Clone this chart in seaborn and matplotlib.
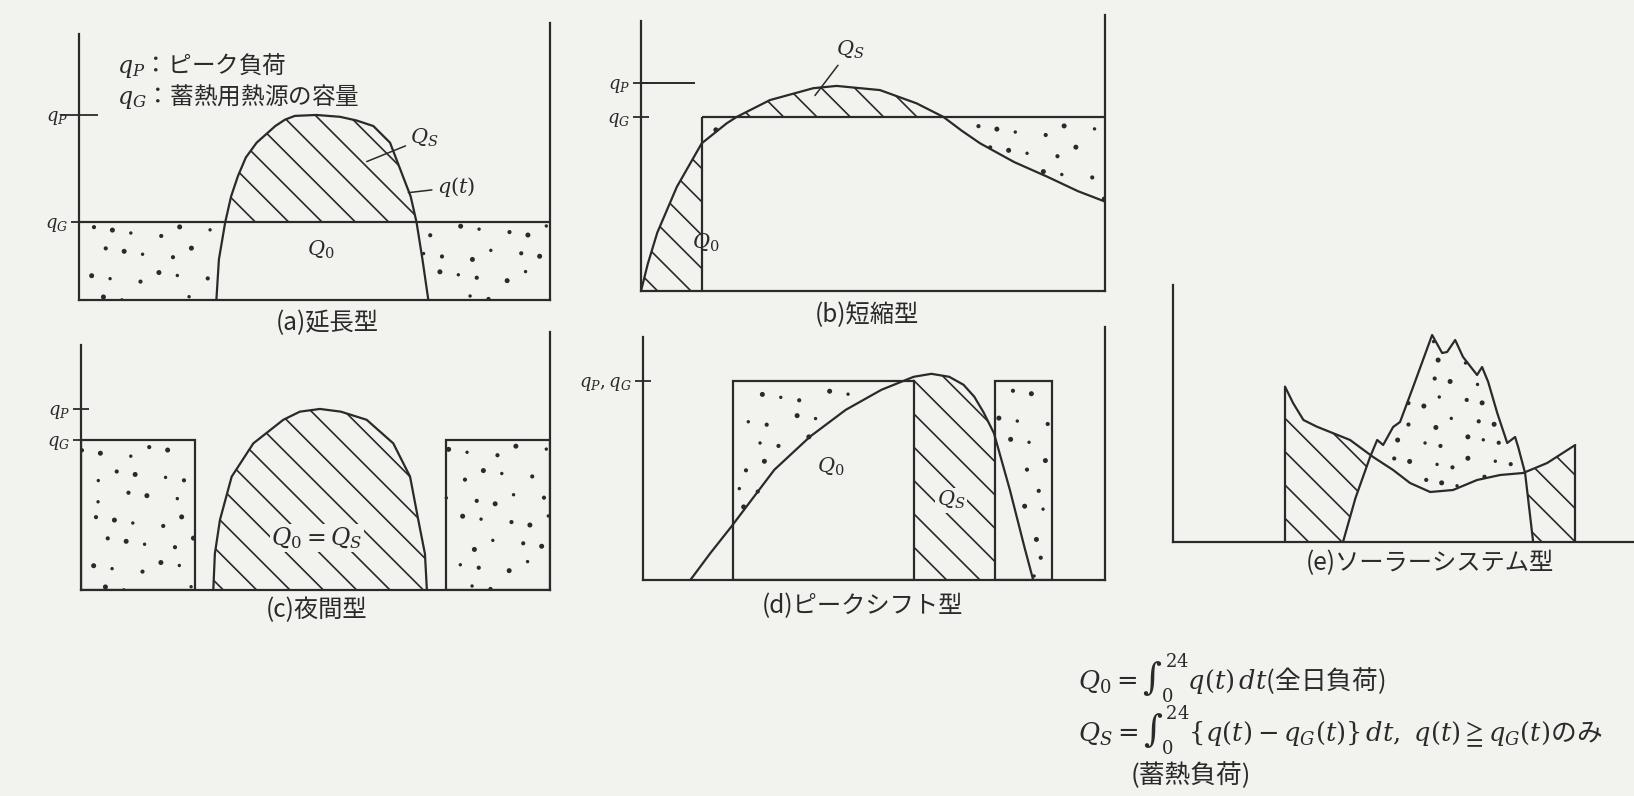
import numpy as np
import matplotlib
matplotlib.use("Agg")
import matplotlib.pyplot as plt
import seaborn as sns

sns.set_theme(style="white")
plt.rcParams["font.family"] = ["Noto Sans CJK JP", "DejaVu Sans"]
plt.rcParams["mathtext.fontset"] = "dejavuserif"
plt.rcParams["hatch.linewidth"] = 1.2
plt.rcParams["axes.unicode_minus"] = False

INK = "#2a2a2a"
PAPER = "#f2f2ef"
W, H = 1634, 796
LW = 1.6

# ---------------- data (時刻 [h], 負荷: q_P = 1) ----------------
# (a) 延長型
a_hours = [7.0, 7.13, 7.45, 7.75, 8.1, 8.5, 9.05, 10.0, 10.5, 11.0, 12.1,
           13.3, 14.15, 15.0, 15.85, 16.5, 16.9, 17.2, 17.5, 17.8]
a_load = [0.0, 0.22, 0.42, 0.56, 0.67, 0.77, 0.85, 0.94, 0.975, 0.995, 1.0,
          0.99, 0.97, 0.94, 0.85, 0.67, 0.56, 0.42, 0.22, 0.0]
a_qP, a_qG = 1.0, 0.42

# (b) 短縮型
b_hours = [0.0, 0.35, 0.84, 1.85, 3.14, 4.43, 4.95, 6.67, 8.91, 10.12, 12.36,
           14.26, 15.64, 16.6, 17.54, 19.3, 21.0, 22.6, 24.0]
b_load = [0.0, 0.13, 0.28, 0.50, 0.71, 0.806, 0.837, 0.918, 0.975, 0.986, 0.966,
          0.902, 0.837, 0.77, 0.71, 0.62, 0.55, 0.48, 0.43]
b_qP, b_qG = 1.0, 0.837
b_start = 3.16

# (c) 夜間型
c_hours = [6.77, 6.85, 7.11, 7.71, 8.82, 10.35, 11.2, 12.23, 13.3, 14.62,
           15.98, 16.84, 17.26, 17.6, 17.7]
c_load = [0.0, 0.2, 0.387, 0.626, 0.81, 0.94, 0.985, 1.0, 0.985, 0.94,
          0.81, 0.626, 0.387, 0.2, 0.0]
c_qP, c_qG = 1.0, 0.83
c_night_start = [0.0, 18.68]
c_night_end = [5.83, 24.0]

# (d) ピークシフト型
d_hours = [2.46, 3.5, 4.59, 5.7, 6.82, 8.68, 10.53, 12.39, 14.06, 14.98, 15.91,
           16.65, 17.21, 17.7, 18.23, 19.06, 19.81, 20.27]
d_load = [0.0, 0.135, 0.268, 0.41, 0.553, 0.72, 0.854, 0.955, 1.02, 1.035, 1.02,
          0.98, 0.92, 0.84, 0.737, 0.452, 0.167, 0.0]
d_qG = 1.0
d_store_start = [4.65, 18.3]
d_store_end = [14.06, 21.25]
d_shift = (14.06, 18.3)

# (e) ソーラーシステム型
e_load_h = [5.83, 6.25, 6.79, 7.48, 8.18, 9.22, 10.42, 11.46, 12.34, 13.39,
            14.58, 15.83, 17.03, 18.23, 19.48, 20.94]
e_load = [0.777, 0.695, 0.61, 0.577, 0.55, 0.51, 0.425, 0.36, 0.295, 0.25,
          0.26, 0.31, 0.335, 0.345, 0.395, 0.485]
e_sun_h = [8.85, 9.5, 10.26, 10.63, 10.94, 11.46, 11.82, 12.5, 13.49, 14.01,
           14.27, 14.69, 15.1, 15.83, 16.09, 16.41, 16.88, 17.4, 17.81, 17.97,
           18.33, 18.75]
e_sun = [0.0, 0.22, 0.425, 0.51, 0.485, 0.575, 0.60, 0.775, 1.035, 0.945,
         0.95, 1.01, 0.925, 0.835, 0.875, 0.80, 0.645, 0.495, 0.525, 0.475,
         0.345, 0.0]

captions = ["(a)延長型", "(b)短縮型", "(c)夜間型", "(d)ピークシフト型",
            "(e)ソーラーシステム型"]
formula_1 = r"$Q_0 = \int_0^{24} q(t)\,dt$(全日負荷)"
formula_2 = r"$Q_S = \int_0^{24} \{q(t) - q_G(t)\}\,dt,\ q(t) \geqq q_G(t)$のみ"
formula_3 = "(蓄熱負荷)"

# ---------------- drawing helpers ----------------
fig = plt.figure(figsize=(W / 100, H / 100), dpi=100, facecolor=PAPER)


def panel(x0, x1, ytop, ybot, ymax):
    ax = fig.add_axes([x0 / W, 1 - ybot / H, (x1 - x0) / W, (ybot - ytop) / H])
    ax.patch.set_alpha(0)
    for s in ax.spines.values():
        s.set_color(INK)
        s.set_linewidth(LW)
    ax.spines["top"].set_visible(False)
    ax.set_xticks([])
    ax.set_yticks([])
    ax.set_xlim(0, 24)
    ax.set_ylim(0, ymax)
    ax._ymax = ymax
    return ax


def finish(ax):
    ax.set_xlim(0, 24)
    ax.set_ylim(0, ax._ymax)
    ax.set_xlabel("")
    ax.set_ylabel("")


def curve(ax, x, y):
    sns.lineplot(x=np.asarray(x), y=np.asarray(y), ax=ax, color=INK,
                 linewidth=LW, sort=False, estimator=None)


def hatched(ax, x, lo, hi, where):
    ax.fill_between(x, lo, hi, where=where, interpolate=True, facecolor="none",
                    edgecolor=INK, hatch="\\", linewidth=0)


def stippled(ax, x, lo, hi, where, step=23):
    """Sprinkle dots over the area between lo and hi (stipple texture)."""
    poly = ax.fill_between(x, lo, hi, where=where, interpolate=True,
                           facecolor="none", linewidth=0)
    bb = ax.bbox
    nx = int(bb.width // step) + 2
    ny = int(bb.height // step) + 2
    k = np.arange(nx * ny)
    col, row = k % nx, k // nx
    px = bb.x0 + (col + 0.5 * (row % 2)) * step + (np.modf(k * 0.6180339)[0] - 0.5) * 12
    py = bb.y0 + row * step + (np.modf(k * 0.7548777)[0] - 0.5) * 12
    pts = ax.transData.inverted().transform(np.column_stack([px, py]))
    inside = np.zeros(len(pts), bool)
    for p in poly.get_paths():
        inside |= p.contains_points(pts)
    sizes = np.array([9.0, 13.0, 6.0])[k % 3]
    ax.scatter(pts[inside, 0], pts[inside, 1], s=sizes[inside], color=INK,
               linewidths=0, zorder=3)


def levels(ax, values, labels, long_idx=None, long_size=None):
    ax.set_yticks(values, labels)
    ax.tick_params(axis="y", left=True, direction="inout", length=12,
                   width=1.3, color=INK, labelsize=13, labelcolor=INK, pad=2)
    if long_idx is not None:
        ax.yaxis.get_major_ticks()[long_idx].tick1line.set_markersize(long_size)


def grid(*xs):
    return np.union1d(np.linspace(0, 24, 1921),
                      np.concatenate([np.asarray(v, float) for v in xs]))


LBL = dict(color=INK, fontsize=15)
LEAD = dict(arrowstyle="-", color=INK, lw=1.1, shrinkA=1, shrinkB=0)

# ---------------- (a) 延長型 ----------------
ax = panel(79, 550, 23, 300, 1.497)
g = grid(a_hours)
q = np.interp(g, a_hours, a_load, left=0, right=0)
hatched(ax, g, a_qG, q, q >= a_qG)
stippled(ax, g, q, a_qG, q <= a_qG)
ax.hlines(a_qG, 0, 24, color=INK, lw=LW)
curve(ax, a_hours, a_load)
ax.spines["left"].set_bounds(0, 1.44)
levels(ax, [a_qG, a_qP], [r"$q_G$", r"$q_P$"], long_idx=1, long_size=27)
ax.text(1.94, 1.27, r"$q_P$：ピーク負荷", ha="left", va="center",
        color=INK, fontsize=17)
ax.text(1.94, 1.100, r"$q_G$：蓄熱用熱源の容量", ha="left", va="center",
        color=INK, fontsize=17)
ax.annotate(r"$Q_S$", xy=(14.66, 0.748), xytext=(16.87, 0.874), ha="left",
            va="center", arrowprops=LEAD, **LBL)
ax.annotate(r"$q(t)$", xy=(16.78, 0.58), xytext=(18.22, 0.61), ha="left",
            va="center", arrowprops=LEAD, **LBL)
ax.text(12.3, 0.27, r"$Q_0$", ha="center", va="center", **LBL)
finish(ax)

# ---------------- (b) 短縮型 ----------------
ax = panel(641, 1105, 15, 291, 1.327)
g = grid(b_hours, [b_start])
q = np.interp(g, b_hours, b_load)
hatched(ax, g, 0, q, g <= b_start)
stippled(ax, g, q, b_qG, (g >= b_start) & (q <= b_qG))
hatched(ax, g, b_qG, q, q >= b_qG)
ax.vlines(b_start, 0, b_qG, color=INK, lw=LW)
ax.hlines(b_qG, b_start, 24, color=INK, lw=LW)
ax.hlines(b_qP, 0, 2.8, color=INK, lw=1.4)
curve(ax, b_hours, b_load)
ax.spines["left"].set_bounds(0, 1.30)
levels(ax, [b_qG, b_qP], [r"$q_G$", r"$q_P$"])
ax.annotate(r"$Q_S$", xy=(9.0, 0.94), xytext=(10.8, 1.16), ha="center",
            va="center", arrowprops=LEAD, **LBL)
ax.text(3.36, 0.23, r"$Q_0$", ha="center", va="center", **LBL)
finish(ax)

# ---------------- (c) 夜間型 ----------------
ax = panel(81, 550, 332, 590, 1.425)
g = grid(c_hours, c_night_start, c_night_end)
q = np.interp(g, c_hours, c_load, left=0, right=0)
hatched(ax, g, 0, q, q > 0)
night = np.zeros_like(g, bool)
for s0, s1 in zip(c_night_start, c_night_end):
    night |= (g >= s0) & (g <= s1)
stippled(ax, g, 0, c_qG, night)
widths = np.subtract(c_night_end, c_night_start)
ax.bar(c_night_start, c_qG, width=widths, align="edge", fill=False,
       edgecolor=INK, linewidth=LW)
curve(ax, c_hours, c_load)
ax.spines["left"].set_bounds(0, 1.354)
levels(ax, [c_qG, c_qP], [r"$q_G$", r"$q_P$"])
ax.text(12.08, 0.287, r"$Q_0 = Q_S$", ha="center", va="center", color=INK,
        fontsize=17, bbox=dict(facecolor=PAPER, edgecolor="none", pad=1.0))
finish(ax)

# ---------------- (d) ピークシフト型 ----------------
ax = panel(643, 1105, 327, 580, 1.27)
g = grid(d_hours, d_store_start, d_store_end)
q = np.interp(g, d_hours, d_load, left=0, right=0)
store = np.zeros_like(g, bool)
for s0, s1 in zip(d_store_start, d_store_end):
    store |= (g >= s0) & (g <= s1)
in_shift = (g >= d_shift[0]) & (g <= d_shift[1])
stippled(ax, g, q, d_qG, store & (q <= d_qG))
hatched(ax, g, 0, q, in_shift)
widths = np.subtract(d_store_end, d_store_start)
ax.bar(d_store_start, d_qG, width=widths, align="edge", fill=False,
       edgecolor=INK, linewidth=LW)
curve(ax, d_hours, d_load)
ax.spines["left"].set_bounds(0, 1.22)
levels(ax, [d_qG], [r"$q_P, q_G$"])
ax.text(9.77, 0.568, r"$Q_0$", ha="center", va="center", **LBL)
ax.text(16.0, 0.40, r"$Q_S$", ha="center", va="center", color=INK,
        fontsize=15, bbox=dict(facecolor=PAPER, edgecolor="none", pad=1.0))
finish(ax)

# ---------------- (e) ソーラーシステム型 ----------------
ax = panel(1173, 1634, 285, 542, 1.285)
ax.spines["right"].set_visible(False)
g = np.union1d(np.linspace(e_load_h[0], e_load_h[-1], 1200),
               np.concatenate([e_load_h, e_sun_h]))
g = g[(g >= e_load_h[0]) & (g <= e_load_h[-1])]
L = np.interp(g, e_load_h, e_load)
S = np.interp(g, e_sun_h, e_sun, left=0, right=0)
hatched(ax, g, S, L, L >= S)
stippled(ax, g, L, S, S >= L, step=20)
ax.vlines([e_load_h[0], e_load_h[-1]], 0, [e_load[0], e_load[-1]],
          color=INK, lw=LW)
curve(ax, e_load_h, e_load)
curve(ax, e_sun_h, e_sun)
finish(ax)

# ---------------- captions and formulas ----------------
cap_pos = [(327, 323), (867, 315), (317, 610), (862, 606), (1430, 563)]
for text, (x, y) in zip(captions, cap_pos):
    fig.text(x / W, 1 - y / H, text, ha="center", va="center", color=INK,
             fontsize=17.5)

fig.text(1078 / W, 1 - 678 / H, formula_1, ha="left", va="center", color=INK,
         fontsize=18.5)
fig.text(1078 / W, 1 - 729 / H, formula_2, ha="left", va="center", color=INK,
         fontsize=18.5)
fig.text(1131 / W, 1 - 776 / H, formula_3, ha="left", va="center", color=INK,
         fontsize=18.5)

fig.savefig("out.png", dpi=100, facecolor=PAPER)
